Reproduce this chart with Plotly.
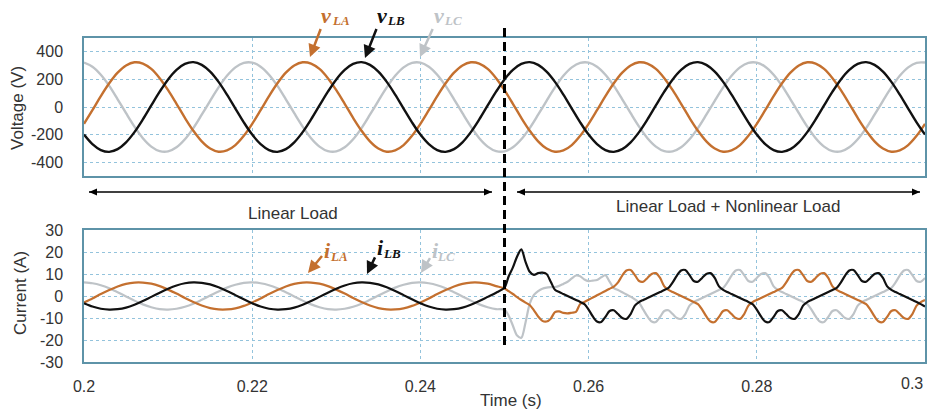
import numpy as np
import plotly.graph_objects as go

# ---------------- data ----------------
# voltage samples every 1 ms from 0.200 s to 0.300 s
t_volt = np.round(0.2 + np.arange(101) * 0.001, 4)
v_la = [-122, -23, 79, 172, 249, 301, 324, 315, 276, 209, 122, 23, -79, -172, -249, -301, -324, -315, -276, -209,
        -122, -23, 79, 172, 249, 301, 324, 315, 276, 209, 122, 23, -79, -172, -249, -301, -324, -315, -276, -209,
        -122, -23, 79, 172, 249, 301, 324, 315, 276, 209, 122, 23, -79, -172, -249, -301, -324, -315, -276, -209,
        -122, -23, 79, 172, 249, 301, 324, 315, 276, 209, 122, 23, -79, -172, -249, -301, -324, -315, -276, -209,
        -122, -23, 79, 172, 249, 301, 324, 315, 276, 209, 122, 23, -79, -172, -249, -301, -324, -315, -276, -209,
        -122]
v_lb = [-200, -269, -312, -325, -305, -256, -182, -90, 11, 111, 200, 269, 312, 325, 305, 256, 182, 90, -11, -111,
        -200, -269, -312, -325, -305, -256, -182, -90, 11, 111, 200, 269, 312, 325, 305, 256, 182, 90, -11, -111,
        -200, -269, -312, -325, -305, -256, -182, -90, 11, 111, 200, 269, 312, 325, 305, 256, 182, 90, -11, -111,
        -200, -269, -312, -325, -305, -256, -182, -90, 11, 111, 200, 269, 312, 325, 305, 256, 182, 90, -11, -111,
        -200, -269, -312, -325, -305, -256, -182, -90, 11, 111, 200, 269, 312, 325, 305, 256, 182, 90, -11, -111,
        -200]
v_lc = [322, 292, 234, 153, 56, -45, -142, -226, -287, -320, -322, -292, -234, -153, -56, 45, 142, 226, 287, 320,
        322, 292, 234, 153, 56, -45, -142, -226, -287, -320, -322, -292, -234, -153, -56, 45, 142, 226, 287, 320,
        322, 292, 234, 153, 56, -45, -142, -226, -287, -320, -322, -292, -234, -153, -56, 45, 142, 226, 287, 320,
        322, 292, 234, 153, 56, -45, -142, -226, -287, -320, -322, -292, -234, -153, -56, 45, 142, 226, 287, 320,
        322, 292, 234, 153, 56, -45, -142, -226, -287, -320, -322, -292, -234, -153, -56, 45, 142, 226, 287, 320,
        322]

# current samples: every 1 ms for 0.200-0.249 s, every 0.5 ms for 0.250-0.300 s
t_curr = np.concatenate([np.round(0.2 + np.arange(50) * 0.001, 4),
                         np.round(0.25 + np.arange(101) * 0.0005, 4)])
i_la = [-2.9, -1.1, 0.9, 2.7, 4.3, 5.5, 6.1, 6.1, 5.6, 4.5, 2.9, 1.1, -0.9, -2.7, -4.3, -5.5, -6.1, -6.1, -5.6, -4.5,
        -2.9, -1.1, 0.9, 2.7, 4.3, 5.5, 6.1, 6.1, 5.6, 4.5, 2.9, 1.1, -0.9, -2.7, -4.3, -5.5, -6.1, -6.1, -5.6, -4.5,
        -2.9, -1.1, 0.9, 2.7, 4.3, 5.5, 6.1, 6.1, 5.6, 4.5,
        3.4, 2.2, 0.9, -0.5, -1.8, -3.0, -4.1, -6.5, -9.3, -11.3,
        -11.6, -10.3, -7.3, -7.0, -7.7, -7.9, -7.6, -7.2, -3.6, -2.7,
        -1.7, -0.7, 0.3, 1.3, 2.3, 3.3, 4.3, 6.2, 9.3, 11.6,
        11.8, 9.5, 6.8, 6.5, 8.2, 10.0, 10.4, 8.2, 4.4, 2.8,
        1.8, 0.9, 0.0, -0.9, -1.8, -2.7, -3.7, -6.2, -9.3, -11.6,
        -11.8, -9.5, -6.8, -6.5, -8.2, -10.0, -10.4, -8.2, -4.4, -2.8,
        -1.8, -0.9, 0.0, 0.9, 1.8, 2.7, 3.7, 6.2, 9.3, 11.6,
        11.8, 9.5, 6.8, 6.5, 8.2, 10.0, 10.4, 8.2, 4.4, 2.8,
        1.8, 0.9, 0.0, -0.9, -1.8, -2.7, -3.7, -6.2, -9.3, -11.6,
        -11.8, -9.5, -6.8, -6.5, -8.2, -10.0, -10.4, -8.2, -4.4, -2.8,
        -1.8]
i_lb = [-3.3, -4.8, -5.8, -6.2, -6.0, -5.3, -4.0, -2.3, -0.4, 1.5, 3.3, 4.8, 5.8, 6.2, 6.0, 5.3, 4.0, 2.3, 0.4, -1.5,
        -3.3, -4.8, -5.8, -6.2, -6.0, -5.3, -4.0, -2.3, -0.4, 1.5, 3.3, 4.8, 5.8, 6.2, 6.0, 5.3, 4.0, 2.3, 0.4, -1.5,
        -3.3, -4.8, -5.8, -6.2, -6.0, -5.3, -4.0, -2.3, -0.4, 1.5,
        3.8, 9.0, 13.0, 18.0, 21.2, 15.5, 11.0, 9.6, 10.4, 10.6,
        10.0, 6.5, 2.8, 1.8, 0.9, 0.0, -0.9, -1.8, -2.7, -3.7,
        -6.2, -9.3, -11.6, -11.8, -9.5, -6.8, -6.5, -8.2, -10.0, -10.4,
        -8.2, -4.4, -2.8, -1.8, -0.9, 0.0, 0.9, 1.8, 2.7, 3.7,
        6.2, 9.3, 11.6, 11.8, 9.5, 6.8, 6.5, 8.2, 10.0, 10.4,
        8.2, 4.4, 2.8, 1.8, 0.9, 0.0, -0.9, -1.8, -2.7, -3.7,
        -6.2, -9.3, -11.6, -11.8, -9.5, -6.8, -6.5, -8.2, -10.0, -10.4,
        -8.2, -4.4, -2.8, -1.8, -0.9, 0.0, 0.9, 1.8, 2.7, 3.7,
        6.2, 9.3, 11.6, 11.8, 9.5, 6.8, 6.5, 8.2, 10.0, 10.4,
        8.2, 4.4, 2.8, 1.8, 0.9, 0.0, -0.9, -1.8, -2.7, -3.7,
        -4.8]
i_lc = [6.2, 5.8, 4.9, 3.5, 1.7, -0.2, -2.1, -3.8, -5.1, -6.0, -6.2, -5.8, -4.9, -3.5, -1.7, 0.2, 2.1, 3.8, 5.1, 6.0,
        6.2, 5.8, 4.9, 3.5, 1.7, -0.2, -2.1, -3.8, -5.1, -6.0, -6.2, -5.8, -4.9, -3.5, -1.7, 0.2, 2.1, 3.8, 5.1, 6.0,
        6.2, 5.8, 4.9, 3.5, 1.7, -0.2, -2.1, -3.8, -5.1, -6.0,
        -6.2, -9.0, -13.5, -18.0, -19.0, -12.0, -3.5, 0.5, 2.2, 3.3,
        3.8, 4.0, 4.1, 4.6, 5.5, 6.5, 8.0, 9.3, 9.0, 7.5,
        6.8, 7.0, 7.3, 8.5, 9.5, 6.5, 3.6, 2.7, 1.7, 0.7,
        -0.3, -1.5, -3.0, -6.2, -9.3, -11.6, -11.8, -9.5, -6.8, -6.5,
        -8.2, -10.0, -10.4, -8.2, -4.4, -2.8, -1.8, -0.9, 0.0, 0.9,
        1.8, 2.7, 3.7, 6.2, 9.3, 11.6, 11.8, 9.5, 6.8, 6.5,
        8.2, 10.0, 10.4, 8.2, 4.4, 2.8, 1.8, 0.9, 0.0, -0.9,
        -1.8, -2.7, -3.7, -6.2, -9.3, -11.6, -11.8, -9.5, -6.8, -6.5,
        -8.2, -10.0, -10.4, -8.2, -4.4, -2.8, -1.8, -0.9, 0.0, 0.9,
        1.8, 2.7, 3.7, 6.2, 9.3, 11.6, 11.8, 9.5, 6.8, 6.5,
        8.2]

x_ticks = [0.2, 0.22, 0.24, 0.26, 0.28, 0.3]
x_tick_text = ["0.2", "0.22", "0.24", "0.26", "0.28", "0.3"]
v_ticks = [-400, -200, 0, 200, 400]
v_tick_text = ["-400", "-200", "0", "200", "400"]
i_ticks = [-30, -20, -10, 0, 10, 20, 30]
i_tick_text = ["-30", "-20", "-10", "0", "10", "20", "30"]
t_switch = 0.25

# ---------------- style ----------------
C_A = "#C4702F"
C_B = "#111111"
C_C = "#BEC3C7"
FRAME = "#5E93A8"
GRID = "#93C3DC"
TXT = "#333333"
FONT = "Liberation Sans, Arial, sans-serif"
SERIF = "Liberation Serif, DejaVu Serif, serif"

# pixel helpers for decorations (plot area: x 84..925 px, panels stacked in 38..362 px)
def px_t(px):
    return 0.2 + (px - 84) / 8410.0

def px_p(py):
    return (362 - py) / 324.0

fig = go.Figure()
for name, y, c in [("vLC", v_lc, C_C), ("vLA", v_la, C_A), ("vLB", v_lb, C_B)]:
    fig.add_trace(go.Scatter(x=t_volt, y=y, mode="lines", name=name, xaxis="x", yaxis="y",
                             line=dict(color=c, width=2.4, shape="spline", smoothing=1.0)))
for name, y, c in [("iLC", i_lc, C_C), ("iLA", i_la, C_A), ("iLB", i_lb, C_B)]:
    fig.add_trace(go.Scatter(x=t_curr, y=y, mode="lines", name=name, xaxis="x2", yaxis="y2",
                             line=dict(color=c, width=2.2, shape="spline", smoothing=0.8)))

ax_common = dict(showline=True, mirror=True, linecolor=FRAME, linewidth=1.5,
                 showgrid=True, gridcolor=GRID, griddash="dot", gridwidth=1,
                 zeroline=False, ticks="", automargin=False,
                 tickfont=dict(family=FONT, size=16, color=TXT))

fig.update_layout(
    width=929, height=409,
    margin=dict(l=84, r=4, t=38, b=47),
    paper_bgcolor="white", plot_bgcolor="white",
    showlegend=False,
    xaxis=dict(domain=[0, 1], range=[0.2, 0.3], anchor="y", tickvals=x_ticks,
               showticklabels=False, **ax_common),
    yaxis=dict(domain=[0.5741, 1], range=[-500, 500], anchor="x", tickvals=v_ticks,
               ticktext=v_tick_text, ticklabelstandoff=16, **ax_common),
    # the last label (at the right border) is placed inside the figure as an annotation below
    xaxis2=dict(domain=[0, 1], range=[0.2, 0.3], anchor="y2", tickvals=x_ticks[:-1],
                ticktext=x_tick_text[:-1], ticklabelstandoff=9, **ax_common),
    yaxis2=dict(domain=[0, 0.4074], range=[-30, 30], anchor="x2", tickvals=i_ticks,
                ticktext=i_tick_text, ticklabelstandoff=16, **ax_common),
)

# switching instant dashed line
fig.add_shape(type="line", xref="x", yref="paper", x0=t_switch, x1=t_switch, y0=px_p(345), y1=px_p(27),
              line=dict(color="black", width=3, dash="9px,5px"))

# double-headed arrows between the panels (lines + pixel-sized heads)
ARROW_Y = px_p(192)
for xa, xb in [(px_t(89), px_t(492)), (px_t(517), px_t(920))]:
    fig.add_shape(type="line", xref="x", yref="paper", x0=xa, x1=xb, y0=ARROW_Y, y1=ARROW_Y,
                  line=dict(color="black", width=1.6))
    fig.add_shape(type="path", xref="x", yref="paper", xsizemode="pixel", ysizemode="pixel",
                  xanchor=xa, yanchor=ARROW_Y, path="M0,0 L8,3.5 L8,-3.5 Z",
                  fillcolor="black", line=dict(width=0))
    fig.add_shape(type="path", xref="x", yref="paper", xsizemode="pixel", ysizemode="pixel",
                  xanchor=xb, yanchor=ARROW_Y, path="M0,0 L-8,3.5 L-8,-3.5 Z",
                  fillcolor="black", line=dict(width=0))

ann = []
centered = dict(xanchor="center", yanchor="middle", showarrow=False)
# last x tick label, kept inside the right edge
ann.append(dict(text=x_tick_text[-1], x=x_ticks[-1], y=px_p(383), xref="x", yref="paper",
                xanchor="right", yanchor="middle", showarrow=False,
                font=dict(family=FONT, size=16, color=TXT)))
# axis titles
ann.append(dict(text="Voltage (V)", x=(18 - 84) / 841, y=px_p(108), xref="paper", yref="paper",
                textangle=-90, font=dict(family=FONT, size=17, color=TXT), **centered))
ann.append(dict(text="Current (A)", x=(20 - 84) / 841, y=px_p(293), xref="paper", yref="paper",
                textangle=-90, font=dict(family=FONT, size=17, color=TXT), **centered))
ann.append(dict(text="Time (s)", x=(511 - 84) / 841, y=px_p(400), xref="paper", yref="paper",
                font=dict(family=FONT, size=17, color=TXT), **centered))
# region labels
ann.append(dict(text="Linear Load", x=px_t(293), y=px_p(213), xref="x", yref="paper",
                font=dict(family=FONT, size=17, color=TXT), **centered))
ann.append(dict(text="Linear Load + Nonlinear Load", x=px_t(728), y=px_p(206), xref="x", yref="paper",
                font=dict(family=FONT, size=17, color=TXT), **centered))

# phase labels: symbol (with arrow to waveform) + subscript
labels = [
    # symbol, subscript, colour, symbol centre px, subscript centre px, arrow head px
    ("v", "LA", C_A, (326, 15), (341, 21), (310, 57)),
    ("v", "LB", C_B, (382, 15), (396, 21), (365, 58)),
    ("v", "LC", C_C, (439, 15), (453, 21), (420, 57)),
    ("i", "LA", C_A, (327, 250), (339, 256), (308, 273)),
    ("i", "LB", C_B, (380, 247), (392, 253), (367, 274)),
    ("i", "LC", C_C, (435, 250), (446, 256), (421, 273)),
]
for sym, sub, c, (lx, ly), (sx, sy), (hx, hy) in labels:
    ann.append(dict(text=sym, x=px_t(hx), y=px_p(hy), xref="x", yref="paper",
                    ax=lx - hx, ay=ly - hy, showarrow=True, arrowhead=2, arrowsize=1.0,
                    arrowwidth=2.5, arrowcolor=c, standoff=0,
                    font=dict(family=SERIF, size=22, color=c, weight="bold", style="italic")))
    ann.append(dict(text=sub, x=px_t(sx), y=px_p(sy), xref="x", yref="paper",
                    font=dict(family=SERIF, size=13, color=c, weight="bold", style="italic"),
                    **centered))

fig.update_layout(annotations=ann)
fig.write_html("out.html", config={"displayModeBar": False},
               post_script="document.body.style.margin='0px';")
